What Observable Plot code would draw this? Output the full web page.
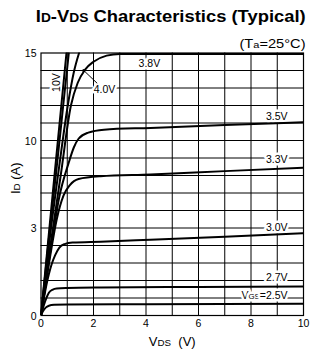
<!DOCTYPE html>
<html><head><meta charset="utf-8">
<script src="https://cdn.jsdelivr.net/npm/d3@7"></script>
<script src="https://cdn.jsdelivr.net/npm/@observablehq/plot@0.6"></script>
<style>html,body{margin:0;padding:0;background:#fff;} svg{display:block}</style>
</head><body><div id="chart"></div>
<script>
// ---- data ----
const xTickValues = [0, 2, 4, 6, 8, 10];
const yTickValues = [0, 5, 10, 15];
const yTickLabels = ["0", "3", "10", "15"];
const xGridValues = [1, 2, 3, 4, 5, 6, 7, 8, 9];
const yGridValues = [1, 2, 3, 4, 5, 6, 7, 8, 9, 10, 11, 12, 13, 14];

// [VDS (V), ID (A)] pairs per gate voltage
const curve10V  = [[0,0],[0.5,7.8],[0.97,15]];
const curveHigh = [[0,0],[0.3,4.4],[0.6,8.5],[0.86,12.2],[1.06,15]];
const curve4V0  = [[0,0],[0.35,4.6],[0.7,8.6],[1.02,12.0],[1.25,13.9],[1.45,15]];
const curve3V8  = [[0,0],[0.35,3.9],[0.75,8.0],[1.14,12.0],[1.4,13.3],[1.68,14.05],[2.0,14.5],[2.5,14.85],[3.0,14.95],[10,14.95]];
const curve3V5  = [[0,0],[0.35,3.6],[0.7,6.8],[1.05,8.7],[1.25,9.6],[1.43,10.1],[1.8,10.45],[2.4,10.62],[4.17,10.72],[7,10.88],[10,11.05]];
const curve3V3  = [[0,0],[0.35,3.4],[0.6,5.5],[0.86,6.86],[1.1,7.45],[1.43,7.8],[2.27,7.96],[4.17,8.06],[7,8.25],[10,8.44]];
const curve3V0  = [[0,0],[0.2,1.7],[0.4,2.9],[0.54,3.45],[0.7,3.88],[0.9,4.08],[1.2,4.17],[2.27,4.22],[4.17,4.33],[7,4.5],[10,4.7]];
const curve2V7  = [[0,0],[0.1,0.55],[0.2,0.98],[0.3,1.3],[0.45,1.48],[0.6,1.54],[1,1.57],[2.3,1.6],[6,1.63],[10,1.66]];
const curve2V5  = [[0,0],[0.08,0.25],[0.18,0.45],[0.3,0.56],[0.5,0.61],[1,0.63],[4,0.64],[10,0.67]];

const seriesNames = ["10V", "high", "4.0V", "3.8V", "3.5V", "3.3V", "3.0V", "2.7V", "2.5V"];
const seriesPoints = [curve10V, curveHigh, curve4V0, curve3V8, curve3V5, curve3V3, curve3V0, curve2V7, curve2V5];

const curveLabelText = ["3.5V", "3.3V", "3.0V", "2.7V", "VGS=2.5V"];
const curveLabelId   = [11.37, 8.9, 5.05, 2.19, 1.14];

// ---- build table ----
const table = seriesNames.flatMap((s, i) => seriesPoints[i].map(([vds, id]) => ({series: s, vds, id})));

const font = "'Liberation Sans', Arial, Helvetica, sans-serif";
const halo = {stroke: "white", strokeWidth: 5, paintOrder: "stroke", fill: "black"};
const mid = {lineAnchor: "middle"};

const plot = Plot.plot({
  width: 311,
  height: 349,
  marginLeft: 40.5,
  marginRight: 8,
  marginTop: 52.5,
  marginBottom: 34,
  style: {fontFamily: font, fontSize: "10.5px", background: "white", overflow: "visible"},
  x: {domain: [0, 10], axis: null},
  y: {domain: [0, 15], axis: null},
  marks: [
    Plot.ruleX(xGridValues, {stroke: "black", strokeWidth: 1}),
    Plot.ruleY(yGridValues, {stroke: "black", strokeWidth: 1}),
    // curve labels (white box over the grid)
    Plot.text(curveLabelText, {x: 9.39, y: (d, i) => curveLabelId[i], text: d => d, textAnchor: "end", fontSize: 10.5, ...mid, ...halo}),
    Plot.text(["3.8V"], {x: 4.13, y: 14.37, text: d => d, textAnchor: "middle", fontSize: 10.5, ...mid, ...halo}),
    Plot.text(["4.0V"], {x: 2.01, y: 12.91, text: d => d, textAnchor: "start", fontSize: 10.5, ...mid, ...halo}),
    Plot.text(["10V"], {x: 0.59, y: 13.31, text: d => d, rotate: -90, textAnchor: "middle", fontSize: 10.5, ...mid, ...halo}),
    Plot.link([0], {x1: 1.63, y1: 14.0, x2: 2.14, y2: 13.27, stroke: "black", strokeWidth: 1}),
    Plot.dot([0], {x: 1.63, y: 14.0, r: 1.6, fill: "black"}),
    Plot.line(table, {x: "vds", y: "id", z: "series", curve: "monotone-x", stroke: "black", strokeWidth: 2, clip: true}),
    Plot.frame({stroke: "black", strokeWidth: 1.2}),
    // tick labels
    Plot.text(xTickValues, {x: d => d, frameAnchor: "bottom", dy: 8.5, textAnchor: "middle", text: d => String(d), fontSize: 10.5, ...mid}),
    Plot.text(yTickValues, {y: d => d, frameAnchor: "left", dx: -4.5, dy: 1, textAnchor: "end", text: (d, i) => yTickLabels[i], fontSize: 10.5, ...mid}),
    // axis labels
    Plot.text(["VDS (V)"], {frameAnchor: "bottom", dy: 26, textAnchor: "middle", text: d => d, fontSize: 13, ...mid}),
    Plot.text(["ID (A)"], {x: -0.97, y: 7.84, rotate: -90, textAnchor: "middle", text: d => d, fontSize: 13, ...mid}),
    // title & condition
    Plot.text(["ID-VDS Characteristics (Typical)"], {frameAnchor: "top", dx: -1.5, dy: -36.5, textAnchor: "middle", text: d => d, fontSize: 16.5, fontWeight: "bold", ...mid}),
    Plot.text(["(Ta=25°C)"], {frameAnchor: "top-right", dx: 2, dy: -9.5, textAnchor: "end", text: d => d, fontSize: 13, ...mid})
  ]
});

// subscripts as tspans, and stretched widths like the reference glyphs
const rich = new Map([
  ["ID-VDS Characteristics (Typical)", {parts: [["I",0],["D",1],["-V",0],["DS",1],[" Characteristics (Typical)",0]], len: 270}],
  ["(Ta=25°C)", {parts: [["(T",0],["a",1],["=25°C)",0]], len: 66}],
  ["VDS (V)", {parts: [["V",0],["DS",1],["\u00a0\u00a0(V)",0]]}],
  ["ID (A)", {parts: [["I",0],["D",1],["\u00a0(A)",0]]}],
  ["VGS=2.5V", {parts: [["V",0],["GS",1],["=2.5V",0]]}]
]);
d3.select(plot).selectAll("text").each(function() {
  const spec = rich.get(this.textContent);
  if (!spec) return;
  this.textContent = "";
  for (const [s, sub] of spec.parts) {
    const ts = document.createElementNS("http://www.w3.org/2000/svg", "tspan");
    ts.textContent = s;
    if (sub) ts.setAttribute("font-size", "75%");
    this.appendChild(ts);
  }
  if (spec.len) {
    this.setAttribute("textLength", spec.len);
    this.setAttribute("lengthAdjust", "spacingAndGlyphs");
  }
});
document.getElementById("chart").appendChild(plot);
</script>
</body></html>
